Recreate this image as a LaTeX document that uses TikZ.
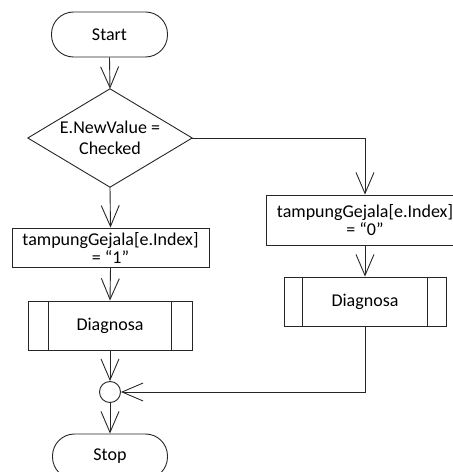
\documentclass[tikz,border=0pt]{standalone}
\usepackage{fontspec}
\setmainfont{Carlito}
\usetikzlibrary{arrows.meta}
\begin{document}
\begin{tikzpicture}[x=1pt,y=1pt,
  every node/.style={font=\fontsize{18pt}{18pt}\selectfont, inner sep=0pt, align=center},
  line/.style={line width=0.9pt, draw=black!85},
  arr/.style={line, -{Straight Barb[length=21pt,width=18pt,line width=0.9pt]}},
  term/.style={line, draw, rounded corners=22pt, minimum width=116pt, minimum height=45pt},
  proc/.style={line, draw, minimum width=197pt},
  sub/.style={line, draw, minimum width=164pt, minimum height=49pt},
  junction/.style={line, draw, circle, minimum size=21pt}
]
\useasboundingbox (0,0) rectangle (453,472);
\clip (0,0) rectangle (453,472);

\node[term] (start) at (109.5,437.5) {Start};
\node[minimum width=164pt, minimum height=98pt, font=\fontsize{18pt}{21pt}\selectfont] (dec) at (110,334) {E.NewValue =\\Checked};
\draw[line] (dec.north) -- (dec.east) -- (dec.south) -- (dec.west) -- cycle;

\node[proc, minimum height=39pt] (box1) at (110.5,224.5) {tampungGejala[e.Index]\\= “1”};
\node[sub] (diag1) at (110,146.5) {Diagnosa};
\draw[line] ([xshift=21pt]diag1.north west) -- ([xshift=21pt]diag1.south west);
\draw[line] ([xshift=-21pt]diag1.north east) -- ([xshift=-21pt]diag1.south east);

\node[junction] (join) at (110,80) {};
\node[term, minimum width=115pt] (stop) at (110,15.5) {Stop};

\node[proc, minimum height=50pt] (box2) at (365,252) {tampungGejala[e.Index]\\= “0”};
\node[sub, minimum width=162pt] (diag2) at (365,170.5) {Diagnosa};
\draw[line] ([xshift=19pt]diag2.north west) -- ([xshift=19pt]diag2.south west);
\draw[line] ([xshift=-19pt]diag2.north east) -- ([xshift=-19pt]diag2.south east);

\coordinate (c1) at (box2.north |- dec.east);
\coordinate (c2) at (diag2.south |- join.east);

\draw[arr] (start.south) -- (dec.north);
\draw[arr] (dec.south) -- (box1.north);
\draw[arr] (box1.south) -- (diag1.north);
\draw[arr] (diag1.south) -- (join.north);
\draw[arr] (join.south) -- (stop.north);
\draw[arr] (dec.east) -- (c1) -- (box2.north);
\draw[arr] (box2.south) -- (diag2.north);
\draw[arr] (diag2.south) -- (c2) -- (join.east);
\end{tikzpicture}
\end{document}
